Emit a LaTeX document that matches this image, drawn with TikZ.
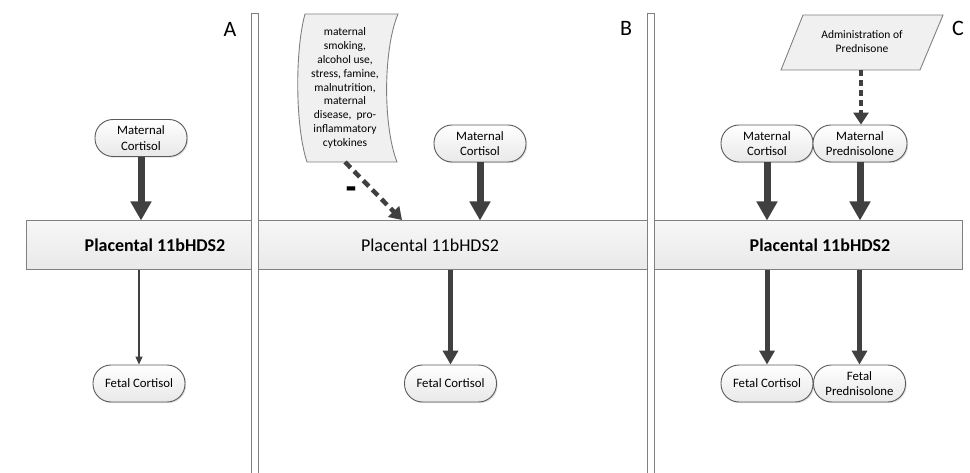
\documentclass[tikz,border=0pt]{standalone}
\usepackage{fontspec}
\setmainfont{Carlito}
\usetikzlibrary{arrows.meta,shadows}
\definecolor{arrowc}{HTML}{404040}
\definecolor{pillborder}{HTML}{5A5A5A}
\definecolor{barborder}{HTML}{808080}
\begin{document}
\begin{tikzpicture}[x=1pt,y=-1pt,
  pill/.style={draw=pillborder, line width=0.9pt, rounded corners=18pt,
    minimum width=92pt, minimum height=37pt, inner sep=1pt,
    top color=white, bottom color=gray!18, align=center,
    font=\fontsize{12.8}{15.5}\selectfont,
    drop shadow={shadow xshift=1.2pt, shadow yshift=-1.2pt, opacity=0.25}},
  bar/.style={draw=barborder, line width=1pt, top color=gray!7, bottom color=gray!17,
    minimum height=49pt, inner sep=0pt},
  bartext/.style={font=\fontsize{18}{21}\selectfont},
  sepbar/.style={draw=barborder, line width=0.9pt, fill=white},
  thickarr/.style={draw=arrowc, line width=7pt, -{Triangle[width=20pt,length=19pt]}},
  medarr/.style={draw=arrowc, line width=5pt, -{Triangle[width=15pt,length=14pt]}},
  thinarr/.style={draw=arrowc, line width=1.2pt, -{Triangle[width=7pt,length=8pt]}},
  dasharr/.style={draw=arrowc, line width=4.5pt, dash pattern=on 8pt off 5pt,
    -{Triangle[width=15pt,length=12pt]}},
  dotarr/.style={draw=arrowc, line width=4pt, dash pattern=on 6pt off 4pt,
    -{Triangle[width=15pt,length=12pt]}},
  shapefill/.style={draw=barborder, line width=0.9pt, fill=gray!12},
  smalltext/.style={align=center, font=\fontsize{11.5}{13.9}\selectfont},
  panel/.style={font=\fontsize{22}{24}\selectfont}
]
\useasboundingbox (0,0) rectangle (970,473);

% placental bars
\node[bar, minimum width=232pt] (barA) at (142,245.5) {};
\node[bar, minimum width=392pt] (barB) at (451,245.5) {};
\node[bar, minimum width=310pt] (barC) at (807,245.5) {};
\node[bartext] (tA) at (155,245.5) {\textbf{Placental 11bHDS2}};
\node[bartext] (tB) at (430,245.5) {Placental 11bHDS2};
\node[bartext] (tC) at (820,245.5) {\textbf{Placental 11bHDS2}};

% separators
\draw[sepbar] (251,13) rectangle (258,476);
\draw[sepbar] (647,13) rectangle (654,476);

% panel letters
\node[panel] (LA) at (230,29) {A};
\node[panel] (LB) at (626,28) {B};
\node[panel] (LC) at (958,28) {C};

% Panel A
\node[pill] (mcA) at (141,138) {Maternal\\Cortisol};
\node[pill] (fcA) at (139,383.5) {Fetal Cortisol};
\draw[thickarr] (mcA.south) -- (mcA.south |- barA.north);
\draw[thinarr] (barA.south -| fcA.north) -- (fcA.north);

% Panel B
\draw[shapefill] (305,14) -- (398,14) .. controls (383,50) and (383,126) .. (397,162)
  -- (307,162) .. controls (295,126) and (295,50) .. (305,14) -- cycle;
\node[smalltext] (risk) at (345,88) {maternal\\smoking,\\alcohol use,\\stress, famine,\\malnutrition,\\maternal\\disease,\ \ pro-\\inflammatory\\cytokines};
\coordinate (riskbot) at (345,162);
\coordinate (riskend) at (402,220);
\draw[dasharr] (riskbot) -- (riskend);
\node[font=\fontsize{24}{26}\selectfont\bfseries, yscale=2, transform shape, inner sep=0pt] (minus) at (351,195) {–};
\node[pill] (mcB) at (480,143.5) {Maternal\\Cortisol};
\node[pill] (fcB) at (450.5,383.5) {Fetal Cortisol};
\draw[thickarr] (mcB.south) -- (mcB.south |- barB.north);
\draw[medarr] (barB.south -| fcB.north) -- (fcB.north);

% Panel C
\draw[shapefill] (803,15) -- (943,15) -- (920,70) -- (781,70) -- cycle;
\node[smalltext] (admin) at (862,42) {Administration of\\Prednisone};
\coordinate (adminbot) at (861,70);
\node[pill] (mcC) at (767,143.5) {Maternal\\Cortisol};
\node[pill, minimum width=94pt] (mpC) at (860,143.5) {Maternal\\Prednisolone};
\draw[dotarr] (adminbot) -- (adminbot |- mpC.north);
\draw[thickarr] (mcC.south) -- (mcC.south |- barC.north);
\draw[thickarr] (mpC.south) -- (mpC.south |- barC.north);
\node[pill] (fcC) at (767,383.5) {Fetal Cortisol};
\node[pill] (fpC) at (859.5,383.5) {Fetal\\Prednisolone};
\draw[medarr] (barC.south -| fcC.north) -- (fcC.north);
\draw[medarr] (barC.south -| fpC.north) -- (fpC.north);
\end{tikzpicture}
\end{document}
